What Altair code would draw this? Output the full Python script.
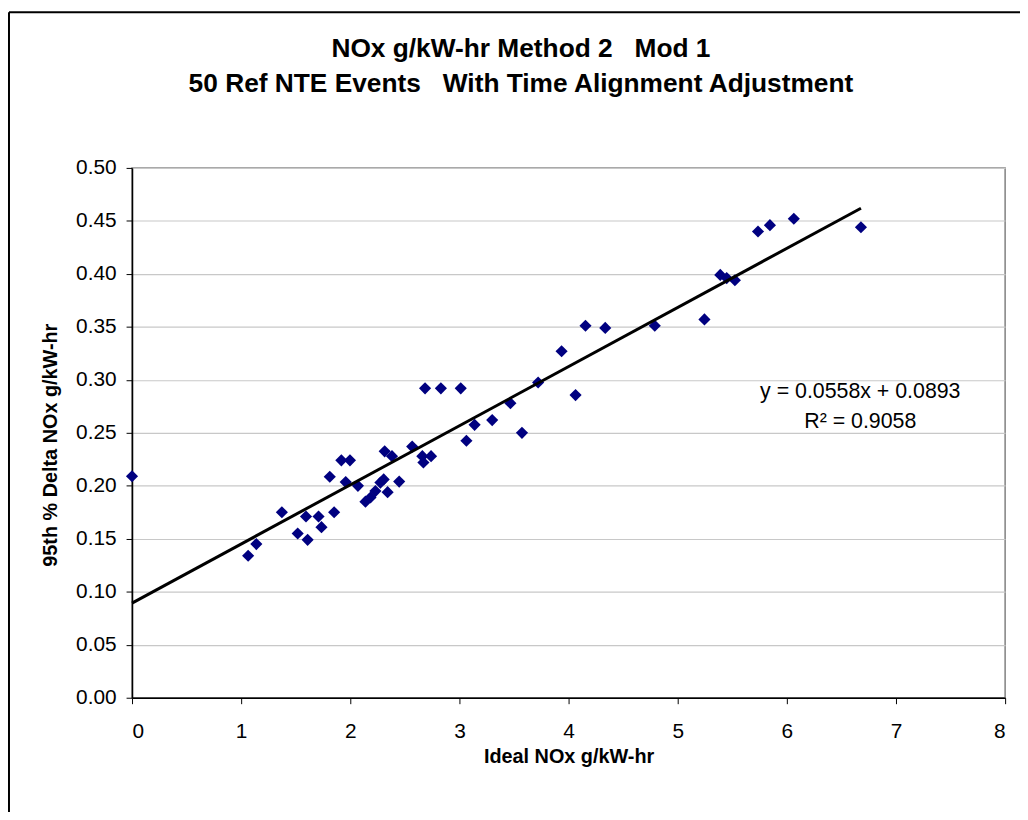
import altair as alt
import pandas as pd

# Scatter data
ideal_nox = [0.0, 1.064, 1.139, 1.373, 1.518, 1.594, 1.609, 1.709, 1.736, 1.852,
             1.812, 1.918, 1.997, 1.958, 2.07, 2.139, 2.185, 2.23, 2.276, 2.306,
             2.342, 2.315, 2.382, 2.448, 2.567, 2.66, 2.67, 2.74, 2.685, 2.83,
             3.012, 3.064, 3.139, 3.3, 3.467, 3.573, 3.721, 3.936, 4.064, 4.155,
             4.336, 4.79, 5.245, 5.39, 5.449, 5.524, 5.736, 5.845, 6.064, 6.679]
delta_nox = [0.209, 0.134, 0.145, 0.175, 0.155, 0.171, 0.149, 0.171, 0.161, 0.175,
             0.2085, 0.224, 0.224, 0.2035, 0.200, 0.185, 0.189, 0.195, 0.203, 0.206,
             0.194, 0.2325, 0.228, 0.204, 0.237, 0.228, 0.222, 0.228, 0.292, 0.292,
             0.292, 0.2425, 0.2575, 0.262, 0.278, 0.250, 0.2975, 0.327, 0.2856, 0.351,
             0.349, 0.351, 0.357, 0.399, 0.396, 0.394, 0.440, 0.446, 0.452, 0.444]

slope = 0.0558
intercept = 0.0893
trend_x = [0.0, 6.679]

title_lines = ["NOx g/kW-hr Method 2\u00a0\u00a0\u00a0Mod 1",
               "50 Ref NTE Events\u00a0\u00a0\u00a0With Time Alignment Adjustment"]
eq_lines = ["y = 0.0558x + 0.0893", "R\u00b2 = 0.9058"]
x_ticks = list(range(0, 9))
y_ticks = [round(i * 0.05, 2) for i in range(11)]

pts = pd.DataFrame({"x": ideal_nox, "y": delta_nox})
trend = pd.DataFrame({"x": trend_x, "y": [slope * v + intercept for v in trend_x]})

FONT = "Liberation Sans"

xscale = alt.Scale(domain=[0, 8], nice=False, zero=False)
yscale = alt.Scale(domain=[0, 0.5], nice=False, zero=False)

xaxis = alt.Axis(values=x_ticks, format="d", title="Ideal NOx g/kW-hr",
                 grid=False, tickSize=6, tickColor="#000000", domainColor="#000000",
                 domainWidth=1.5, labelFontSize=21, labelPadding=17,
                 titleFontSize=20, titleFontWeight="bold", titleX=440, titleY=65,
                 titleBaseline="alphabetic", titleAlign="center")
yaxis = alt.Axis(values=y_ticks, format=".2f", title="95th % Delta NOx g/kW-hr",
                 grid=True, gridColor="#c8c8c8", gridWidth=1.2,
                 tickSize=6, tickColor="#000000", domainColor="#000000",
                 domainWidth=1.5, labelFontSize=21, labelPadding=10,
                 titleFontSize=20, titleFontWeight="bold", titleAngle=-90,
                 titleX=-76, titleY=279, titleBaseline="alphabetic", titleAlign="center")

points = alt.Chart(pts).mark_point(
    shape="diamond", filled=True, color="#000080", size=150, opacity=1
).encode(
    x=alt.X("x:Q", scale=xscale, axis=xaxis),
    y=alt.Y("y:Q", scale=yscale, axis=yaxis),
)

line = alt.Chart(trend).mark_line(color="#000000", strokeWidth=3).encode(
    x=alt.X("x:Q", scale=xscale),
    y=alt.Y("y:Q", scale=yscale),
)


def text_layer(txt, px, py, size, weight="normal"):
    return alt.Chart(pd.DataFrame({"t": [txt]})).mark_text(
        fontSize=size, font=FONT, fontWeight=weight, align="center",
        baseline="alphabetic", color="#000000"
    ).encode(text="t:N", x=alt.value(px), y=alt.value(py))


eq1 = text_layer(eq_lines[0], 734, 232, 21.5)
eq2 = text_layer(eq_lines[1], 734, 262, 21.5)
t1 = text_layer(title_lines[0], 392, -112, 26.5, "bold")
t2 = text_layer(title_lines[1], 392, -77, 26.5, "bold")

frame_left = alt.Chart(pd.DataFrame({"a": [0]})).mark_rule(color="#000000", strokeWidth=2).encode(
    x=alt.value(-124), y=alt.value(-157), y2=alt.value(650))
frame_top = alt.Chart(pd.DataFrame({"a": [0]})).mark_rule(color="#000000", strokeWidth=2).encode(
    y=alt.value(-157), x=alt.value(-124), x2=alt.value(900))

chart = alt.layer(frame_left, frame_top, points, line, eq1, eq2, t1, t2).properties(
    width=880, height=534,
    autosize=alt.AutoSizeParams(type="none"),
    padding={"left": 125, "top": 158, "right": 15, "bottom": 112},
).configure(font=FONT).configure_view(
    stroke="#808080", strokeWidth=1.5
).configure_axis(
    labelColor="#000000", titleColor="#000000", labelFont=FONT, titleFont=FONT
)

chart.save("out.html", embed_options={"renderer": "svg", "actions": False})
